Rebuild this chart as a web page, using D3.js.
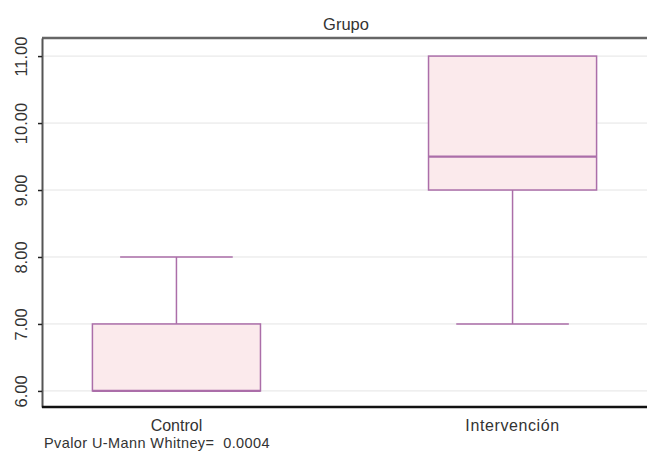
<!DOCTYPE html>
<html>
<head>
<meta charset="utf-8">
<script src="https://cdn.jsdelivr.net/npm/d3@7"></script>
<style>
  body { margin: 0; background: #fff; }
  svg { display: block; font-family: "Liberation Sans", Arial, sans-serif; }
</style>
</head>
<body>
<svg id="chart" width="647" height="452"></svg>
<script>
// Box-plot summaries per group
const categories = ["Control", "Intervención"];
const whiskerLow  = [6, 7];
const q1          = [6, 9];
const median      = [6, 9.5];
const q3          = [7, 11];
const whiskerHigh = [8, 11];
const yTicks = [6, 7, 8, 9, 10, 11];
const title = "Grupo";
const footnote = "Pvalor U-Mann Whitney=  0.0004";

const W = 647, H = 452;
const m = { left: 42, right: 0, top: 38, bottom: 45 };
const svg = d3.select("#chart");

const x = d3.scaleBand().domain(categories).range([m.left, W - m.right]).paddingInner(0.5).paddingOuter(0.15);
const y = d3.scaleLinear().domain([5.76, 11.27]).range([H - m.bottom, m.top]);

// grid
svg.append("g").selectAll("line").data(yTicks).join("line")
  .attr("x1", m.left).attr("x2", W)
  .attr("y1", d => y(d)).attr("y2", d => y(d))
  .attr("stroke", "#e4e4e4").attr("stroke-width", 1);

// title
svg.append("text").attr("x", 346).attr("y", 30).attr("text-anchor", "middle")
  .attr("font-size", 16.5).attr("fill", "#333").text(title);

// top border
svg.append("line").attr("x1", m.left).attr("x2", W).attr("y1", m.top).attr("y2", m.top)
  .attr("stroke", "#666").attr("stroke-width", 2.5);

// y axis
const yAxis = svg.append("g").attr("transform", `translate(${m.left},0)`)
  .call(d3.axisLeft(y).tickValues(yTicks).tickFormat(d3.format(".2f")).tickSize(4).tickSizeOuter(0));
yAxis.select(".domain").attr("stroke", "#555").attr("stroke-width", 2);
yAxis.selectAll(".tick line").attr("stroke", "#222").attr("stroke-width", 1.5);
yAxis.selectAll(".tick text")
  .attr("x", null).attr("y", null).attr("dy", null)
  .attr("transform", "translate(-21,0) rotate(-90)")
  .attr("text-anchor", "middle").attr("dominant-baseline", "central")
  .attr("font-family", "'Liberation Sans', Arial, sans-serif")
  .attr("font-size", 16.5).attr("fill", "#333");

// x axis
const xAxis = svg.append("g").attr("transform", `translate(0,${H - m.bottom})`)
  .call(d3.axisBottom(x).tickSize(0).tickSizeOuter(0));
xAxis.select(".domain").attr("stroke", "#111").attr("stroke-width", 2.5)
  .attr("d", `M${m.left},0H${W}`);
xAxis.selectAll(".tick text").attr("y", 13)
  .attr("font-family", "'Liberation Sans', Arial, sans-serif")
  .attr("font-size", 16).attr("fill", "#333")
  .attr("letter-spacing", d => d === "Intervención" ? 0.6 : 0);

// boxes
const stroke = "#ab6ea9", fill = "#fbeaec";
const g = svg.append("g");
categories.forEach((c, i) => {
  const x0 = x(c), bw = x.bandwidth(), cx = x0 + bw / 2, cap = bw * 0.67;
  if (whiskerHigh[i] > q3[i]) {
    g.append("line").attr("x1", cx).attr("x2", cx).attr("y1", y(q3[i])).attr("y2", y(whiskerHigh[i]))
      .attr("stroke", stroke).attr("stroke-width", 1.5);
    g.append("line").attr("x1", cx - cap / 2).attr("x2", cx + cap / 2).attr("y1", y(whiskerHigh[i])).attr("y2", y(whiskerHigh[i]))
      .attr("stroke", stroke).attr("stroke-width", 1.5);
  }
  if (whiskerLow[i] < q1[i]) {
    g.append("line").attr("x1", cx).attr("x2", cx).attr("y1", y(q1[i])).attr("y2", y(whiskerLow[i]))
      .attr("stroke", stroke).attr("stroke-width", 1.5);
    g.append("line").attr("x1", cx - cap / 2).attr("x2", cx + cap / 2).attr("y1", y(whiskerLow[i])).attr("y2", y(whiskerLow[i]))
      .attr("stroke", stroke).attr("stroke-width", 1.5);
  }
  g.append("rect").attr("x", x0).attr("width", bw)
    .attr("y", y(q3[i])).attr("height", y(q1[i]) - y(q3[i]))
    .attr("fill", fill).attr("stroke", stroke).attr("stroke-width", 1.5);
  g.append("line").attr("x1", x0).attr("x2", x0 + bw).attr("y1", y(median[i])).attr("y2", y(median[i]))
    .attr("stroke", stroke).attr("stroke-width", 2.2);
});

// footnote
svg.append("text").attr("x", 44).attr("y", 448).attr("font-size", 14.5)
  .attr("letter-spacing", 0.4).attr("fill", "#333")
  .style("white-space", "pre").text(footnote);
</script>
</body>
</html>
